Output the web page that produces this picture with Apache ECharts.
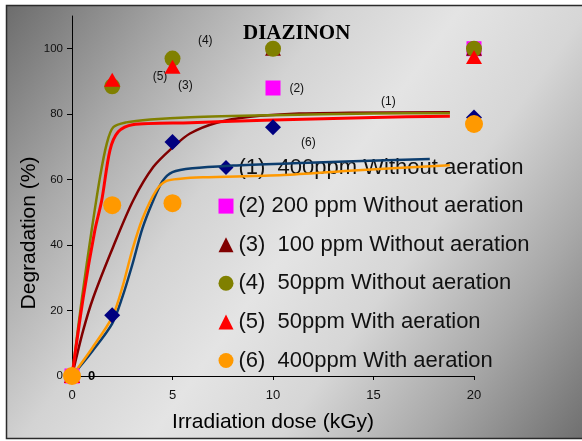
<!DOCTYPE html>
<html>
<head>
<meta charset="utf-8">
<script src="https://cdn.jsdelivr.net/npm/echarts@6/dist/echarts.min.js"></script>
<style>
  html, body { margin: 0; padding: 0; background: #ffffff; }
  #chart { width: 582px; height: 441px; }
</style>
</head>
<body>
<div id="chart"></div>
<script>
// Axis ticks
const xTicks = [0, 5, 10, 15, 20];
const yTicks = [0, 20, 40, 60, 80, 100];

// Legend / series names
const names = [
  '(1)  400ppm Without aeration',
  '(2) 200 ppm Without aeration',
  '(3)  100 ppm Without aeration',
  '(4)  50ppm Without aeration',
  '(5)  50ppm With aeration',
  '(6)  400ppm With aeration'
];

// Measured degradation (%) at each irradiation dose (kGy)
const pts1 = [[0, 0], [2, 18.6], [5, 71.5], [10, 76], [20, 79]];
const pts2 = [[0, 0], [10, 88], [20, 100]];
const pts3 = [[0, 0], [10, 100], [20, 100]];
const pts4 = [[0, 0], [2, 88.5], [5, 97], [10, 100], [20, 100]];
const pts5 = [[0, 0], [2, 90.5], [5, 94.5], [20, 97.5]];
const pts6 = [[0, 0], [2, 52.2], [5, 52.8], [20, 77]];

// Fitted trend curves
const fit1 = [[0, 0], [1, 7.5], [2, 16], [2.5, 24], [3, 34], [3.5, 45], [4, 53], [4.5, 59.5], [5, 62.3], [6, 63.5], [8, 64.3], [11, 65], [14, 65.6], [17.8, 66.3]];
const fit3 = [[0, 0], [0.56, 14], [1.06, 24], [2.05, 39.5], [3.05, 53.7], [4.05, 63.9], [5.04, 70], [5.87, 74.1], [7.2, 77.4], [8.86, 79.2], [11.3, 80.2], [13.8, 80.4], [18.8, 80.6]];
const fit4 = [[0, 0], [0.5, 24], [0.98, 44.6], [1.4, 61], [1.73, 71], [2.05, 76], [2.7, 77.5], [3.9, 78.4], [5.9, 79.1], [10, 79.7], [15, 80.2], [18.8, 80.3]];
const fit5 = [[0, 0], [0.56, 24], [1.14, 44.6], [1.48, 53.7], [1.89, 69], [2.3, 74.6], [3.0, 76.8], [5.9, 77.4], [10, 78.2], [15, 79], [18.8, 79.4]];
const fit6 = [[0, 0], [1, 8.5], [2, 18], [2.5, 27], [3, 38.5], [3.5, 48], [4.2, 56.8], [4.7, 59.6], [5.4, 60.3], [6.5, 60.7], [10.5, 61.4], [13.8, 62.7], [18.8, 64.4]];

// Curve tags placed on the plot
const tagText = ['(4)', '(5)', '(3)', '(2)', '(1)', '(6)'];
const tagDose = [6.63, 4.38, 5.64, 11.18, 15.74, 11.76];
const tagValue = [102.4, 91.45, 88.6, 87.9, 83.8, 71.3];

const FONT = '"Liberation Sans", Arial, sans-serif';

const chart = echarts.init(document.getElementById('chart'), null, { renderer: 'canvas' });

function curve(name, data, color, width) {
  return {
    type: 'line', name: name, data: data, showSymbol: false, symbol: 'none',
    smooth: 0.3, silent: true, z: 5,
    lineStyle: { color: color, width: width }
  };
}

function marks(name, data, symbol, size, color, z) {
  return {
    type: 'scatter', name: name, data: data, symbol: symbol, symbolSize: size,
    silent: true, z: z, itemStyle: { color: color, opacity: 1 }
  };
}

// origin point of the last series carries the "0" value label
const pts6Items = pts6.map((p, i) => i === 0 ? {
  value: p,
  label: { show: true, position: 'right', distance: 7, formatter: '{@[1]}',
           fontFamily: FONT, fontSize: 13, fontWeight: 'bold', color: '#000' }
} : p);

const bgFill = new echarts.graphic.LinearGradient(0, 0, 1, 1, [
  { offset: 0, color: '#6c6c6c' },
  { offset: 0.2, color: '#a9a9a9' },
  { offset: 0.36, color: '#d3d3d3' },
  { offset: 0.5, color: '#e4e4e4' },
  { offset: 0.64, color: '#d6d6d6' },
  { offset: 0.8, color: '#a8a8a8' },
  { offset: 1, color: '#666666' }
]);

const baseGraphic = [
  {
    id: 'bg', type: 'rect', z: -10, silent: true,
    shape: { x: 6.5, y: 5.5, width: 600, height: 433 },
    style: { fill: bgFill, stroke: '#2b2b2b', lineWidth: 1.5 }
  },
  {
    id: 'yname', type: 'text', z: 10, silent: true,
    x: 29, y: 233, rotation: Math.PI / 2,
    style: { text: 'Degradation (%)', fontFamily: FONT, fontSize: 21, fill: '#000',
             align: 'center', verticalAlign: 'middle' }
  }
];

chart.setOption({
  animation: false,
  title: {
    text: 'DIAZINON', left: 243, top: 23, padding: 0,
    textStyle: { fontFamily: '"Liberation Serif", "Times New Roman", serif', fontSize: 21, fontWeight: 'bold', color: '#000' }
  },
  grid: { left: 72, right: 108, top: 16, bottom: 65, containLabel: false },
  legend: {
    data: names, orient: 'vertical', left: 218.5, top: 156.5, padding: 0,
    itemGap: 16.6, itemWidth: 15, itemHeight: 15, selectedMode: false,
    textStyle: { fontFamily: FONT, fontSize: 22, lineHeight: 22, color: '#111' }
  },
  xAxis: {
    type: 'value', min: 0, max: 20, interval: 5,
    name: 'Irradiation dose (kGy)', nameLocation: 'middle', nameGap: 36,
    nameTextStyle: { fontFamily: FONT, fontSize: 21, color: '#000' },
    axisLine: { show: true, onZero: false, lineStyle: { color: '#000', width: 1 } },
    axisTick: { show: true, length: 4, customValues: xTicks, lineStyle: { color: '#000' } },
    axisLabel: { customValues: xTicks, fontFamily: FONT, fontSize: 13, color: '#111', margin: 13 },
    splitLine: { show: false }
  },
  yAxis: {
    type: 'value', min: 0, max: 110, interval: 20,
    axisLine: { show: true, onZero: false, lineStyle: { color: '#000', width: 1 } },
    axisTick: { show: true, length: 5, customValues: yTicks, lineStyle: { color: '#000' } },
    axisLabel: { customValues: yTicks, fontFamily: FONT, fontSize: 11.5, color: '#111', margin: 9 },
    splitLine: { show: false }
  },
  graphic: baseGraphic,
  series: [
    curve('fit (1)', fit1, '#0c3d6e', 2.5),
    curve('fit (6)', fit6, '#ff9900', 2.5),
    curve('fit (3)', fit3, '#800000', 2.5),
    curve('fit (4)', fit4, '#808000', 2.5),
    curve('fit (5)', fit5, '#ff0000', 3),
    marks(names[0], pts1, 'diamond', 16, '#000080', 6),
    marks(names[1], pts2, 'rect', 15, '#ff00ff', 7),
    marks(names[2], pts3, 'triangle', [16, 14], '#800000', 8),
    marks(names[3], pts4, 'circle', 16, '#808000', 9),
    marks(names[4], pts5, 'triangle', [16, 14], '#ff0000', 10),
    marks(names[5], pts6Items, 'circle', 18, '#ff9900', 11)
  ]
});

// place the curve tags through the axis scales
const tags = tagText.map((t, i) => {
  const p = chart.convertToPixel({ gridIndex: 0 }, [tagDose[i], tagValue[i]]);
  return {
    id: 'tag' + i, type: 'text', z: 10, silent: true, x: p[0], y: p[1],
    style: { text: t, fontFamily: FONT, fontSize: 12, fill: '#111', align: 'center', verticalAlign: 'middle' }
  };
});
chart.setOption({ graphic: baseGraphic.concat(tags) });
</script>
</body>
</html>
